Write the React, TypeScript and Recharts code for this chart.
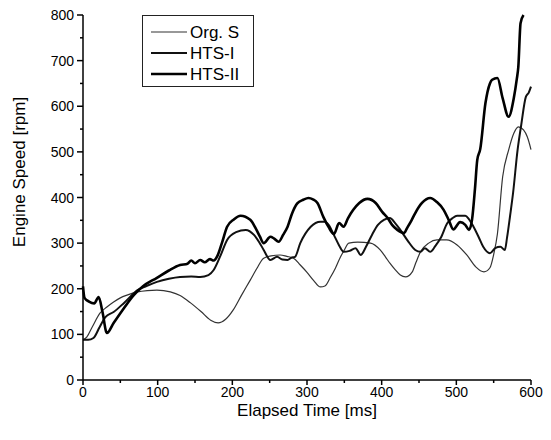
import { LineChart, Line, XAxis, YAxis, Legend } from "recharts";

// Engine speed vs elapsed time, three control settings
const ORG_T = [0, 5, 12, 23, 32, 41, 50, 59, 73, 86, 99, 117, 130, 144, 158, 171, 181, 191, 201, 212, 224, 233, 242, 252, 264, 273, 282, 291, 300, 309, 318, 324, 331, 338, 344, 350, 356, 368, 385, 398, 405, 411, 418, 425, 432, 441, 446, 452, 463, 474, 487, 501, 514, 526, 537, 545, 550, 555, 562, 570, 577, 583, 590, 595, 600];
const ORG_V = [88, 94, 115, 147, 160, 171, 180, 186, 193, 196, 197, 193, 185, 169, 150, 131, 125, 133, 153, 185, 219, 245, 267, 272, 274, 271, 267, 252, 236, 218, 204, 206, 224, 245, 267, 285, 300, 302, 300, 285, 270, 256, 242, 230, 226, 237, 258, 281, 300, 307, 307, 296, 274, 248, 237, 246, 275, 320, 445, 504, 541, 555, 548, 533, 505];

const HTS1_T = [0, 7, 14, 22, 30, 41, 55, 73, 85, 99, 115, 130, 145, 157, 168, 175, 184, 193, 205, 218, 229, 236, 242, 251, 260, 267, 274, 279, 284, 291, 305, 318, 324, 329, 336, 343, 349, 357, 365, 372, 379, 387, 395, 403, 411, 418, 425, 435, 445, 452, 458, 465, 472, 479, 488, 495, 501, 512, 517, 523, 530, 536, 545, 552, 559, 565, 568, 572, 576, 582, 587, 593, 597, 600];
const HTS1_V = [88, 88, 92, 115, 138, 149, 169, 197, 206, 215, 222, 226, 227, 226, 230, 241, 272, 307, 324, 329, 318, 302, 285, 263, 270, 264, 263, 268, 270, 300, 336, 347, 347, 340, 318, 295, 281, 283, 289, 274, 292, 318, 340, 351, 355, 344, 329, 305, 285, 281, 289, 281, 294, 311, 344, 355, 360, 360, 352, 336, 313, 292, 278, 289, 292, 285, 313, 360, 410, 504, 560, 620, 630, 643];

const HTS2_T = [0, 2, 8, 15, 21, 26, 32, 41, 55, 68, 80, 99, 115, 130, 140, 145, 150, 157, 163, 170, 175, 180, 186, 193, 202, 211, 224, 232, 237, 242, 251, 256, 262, 268, 274, 280, 287, 295, 302, 308, 314, 322, 329, 336, 343, 349, 355, 362, 370, 381, 392, 401, 408, 414, 421, 430, 434, 440, 445, 454, 465, 474, 483, 490, 496, 505, 512, 517, 521, 525, 528, 532, 539, 545, 548, 555, 562, 570, 577, 581, 583, 586, 590];
const HTS2_V = [205, 180, 172, 168, 182, 150, 103, 125, 158, 186, 205, 224, 240, 252, 255, 262, 256, 263, 258, 265, 262, 272, 300, 336, 352, 360, 351, 330, 314, 300, 314, 310, 303, 318, 336, 365, 387, 395, 399, 396, 388, 357, 335, 320, 344, 336, 355, 373, 388, 397, 388, 368, 355, 340, 329, 322, 333, 350, 366, 388, 399, 390, 373, 350, 330, 346, 340, 329, 351, 420, 482, 506, 607, 650, 658, 662, 618, 577, 618, 660, 686, 782, 800];

const X_TICKS = [0, 50, 100, 150, 200, 250, 300, 350, 400, 450, 500, 550, 600];
const Y_TICKS = [0, 50, 100, 150, 200, 250, 300, 350, 400, 450, 500, 550, 600, 650, 700, 750, 800];

const SERIES = [
  { name: "Org. S", t: ORG_T, v: ORG_V, color: "#333", width: 1.2 },
  { name: "HTS-I", t: HTS1_T, v: HTS1_V, color: "#111", width: 2 },
  { name: "HTS-II", t: HTS2_T, v: HTS2_V, color: "#000", width: 2.6 },
];

const FONT = "'Liberation Sans', Arial, sans-serif";

const toRows = (t: number[], v: number[]) => t.map((x, i) => ({ t: x, v: v[i] }));

function XTick({ x, y, payload }: any) {
  const major = payload.value % 100 === 0;
  return (
    <g>
      <line x1={x} x2={x} y1={y} y2={y + (major ? 5 : 3)} stroke="#000" strokeWidth={1.5} />
      {major && (
        <text x={x} y={y + 17} textAnchor="middle" fontSize={14} fontFamily={FONT} fill="#000">
          {payload.value}
        </text>
      )}
    </g>
  );
}

function YTick({ x, y, payload }: any) {
  const major = payload.value % 100 === 0;
  return (
    <g>
      <line x1={x - (major ? 6 : 3)} x2={x} y1={y} y2={y} stroke="#000" strokeWidth={1.5} />
      {major && (
        <text x={x - 9} y={y + 5} textAnchor="end" fontSize={14} fontFamily={FONT} fill="#000">
          {payload.value}
        </text>
      )}
    </g>
  );
}

function LegendBox() {
  return (
    <svg width={113} height={73}>
      <rect x={0.5} y={0.5} width={111} height={71} fill="#fff" stroke="#222" strokeWidth={1} />
      {SERIES.map((s, i) => (
        <g key={s.name}>
          <line x1={9} x2={45} y1={17 + i * 21} y2={17 + i * 21} stroke={s.color} strokeWidth={s.width} />
          <text x={48} y={23 + i * 21} fontSize={17} fontFamily={FONT} fill="#000">{s.name}</text>
        </g>
      ))}
    </svg>
  );
}

export default function App() {
  return (
    <div style={{ position: "absolute", left: 0, top: 0, width: 551, height: 440, background: "#fff" }}>
      <LineChart width={551} height={440} margin={{ top: 15, right: 20, bottom: 59, left: 82 }}>
        <XAxis
          type="number" dataKey="t" domain={[0, 600]} ticks={X_TICKS} interval={0}
          height={1} tickSize={0} tickMargin={0} tickLine={false}
          axisLine={{ stroke: "#000", strokeWidth: 1.5 }}
          tick={<XTick />}
          label={{
            content: () => (
              <text x={307} y={416} textAnchor="middle" fontSize={17} fontFamily={FONT} fill="#000">
                Elapsed Time [ms]
              </text>
            ),
          }}
        />
        <YAxis
          type="number" dataKey="v" domain={[0, 800]} ticks={Y_TICKS} interval={0}
          width={1} tickSize={0} tickMargin={0} tickLine={false}
          axisLine={{ stroke: "#000", strokeWidth: 1.5 }}
          tick={<YTick />}
          label={{
            content: () => (
              <text x={25} y={172} transform="rotate(-90 25 172)" textAnchor="middle" fontSize={17} fontFamily={FONT} fill="#000">
                Engine Speed [rpm]
              </text>
            ),
          }}
        />
        <Legend
          verticalAlign="middle" align="center" layout="horizontal"
          wrapperStyle={{ left: 142, top: 15, width: 113, height: 73 }}
          content={() => <LegendBox />}
        />
        {SERIES.map((s) => (
          <Line
            key={s.name} name={s.name} data={toRows(s.t, s.v)} dataKey="v"
            type="monotone" stroke={s.color} strokeWidth={s.width}
            dot={false} activeDot={false} isAnimationActive={false}
          />
        ))}
      </LineChart>
    </div>
  );
}
